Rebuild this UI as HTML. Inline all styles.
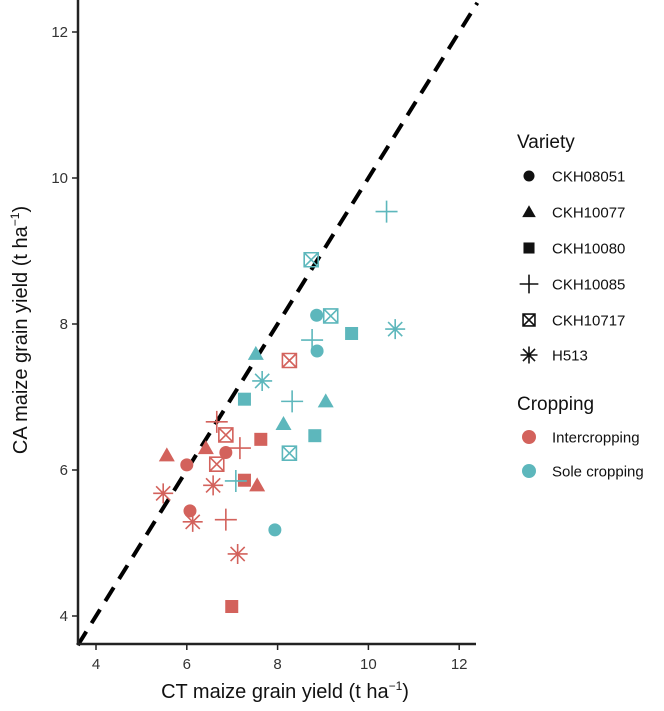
<!DOCTYPE html>
<html><head><meta charset="utf-8"><style>
body{margin:0;background:#fff}
svg{display:block;font-family:"Liberation Sans",sans-serif}
</style></head><body>
<svg id="chart" width="664" height="711">
<g id="plot"></g>
<line x1="78" y1="0" x2="78" y2="645" stroke="#222" stroke-width="2.5"/>
<line x1="77" y1="644" x2="476" y2="644" stroke="#222" stroke-width="2.5"/>
<g id="ticks"></g>
<text x="285" y="698" font-size="20" text-anchor="middle" fill="#111">CT maize grain yield (t ha<tspan dy="-8" font-size="12">−1</tspan><tspan dy="8">)</tspan></text>
<text transform="translate(27,330) rotate(-90)" font-size="20" text-anchor="middle" fill="#111">CA maize grain yield (t ha<tspan dy="-8" font-size="12">−1</tspan><tspan dy="8">)</tspan></text>
<g id="legend">
<text x="517" y="148" font-size="19" fill="#111">Variety</text>
<text x="517" y="410" font-size="19" fill="#111">Cropping</text>
</g>
</svg>
<script>
const varieties=["CKH08051","CKH10077","CKH10080","CKH10085","CKH10717","H513"];
const croppings=["Intercropping","Sole cropping"];
const ctYield=[6.0,6.86,6.07,5.56,6.42,7.55,7.63,7.27,6.99,6.66,7.17,6.86,6.86,6.66,8.26,5.48,6.58,6.13,7.12,
 8.86,8.87,7.94,7.52,8.13,9.06,7.27,9.63,8.82,8.76,8.32,7.08,10.40,9.17,8.26,8.74,7.66,10.59];
const caYield=[6.07,6.24,5.44,6.2,6.30,5.79,6.42,5.86,4.13,6.66,6.30,5.32,6.48,6.08,7.50,5.68,5.79,5.29,4.85,
 8.12,7.63,5.18,7.59,6.63,6.94,6.97,7.87,6.47,7.78,6.94,5.85,9.54,8.11,6.23,8.88,7.22,7.93];
const varietyIdx=[0,0,0,1,1,1,2,2,2,3,3,3,4,4,4,5,5,5,5,
 0,0,0,1,1,1,2,2,2,3,3,3,3,4,4,4,5,5];
const croppingIdx=[0,0,0,0,0,0,0,0,0,0,0,0,0,0,0,0,0,0,0,
 1,1,1,1,1,1,1,1,1,1,1,1,1,1,1,1,1,1];
const xTicks=[4,6,8,10,12];
const yTicks=[4,6,8,10,12];
const X=v=>96+(v-4)*45.4;
const Y=v=>616-(v-4)*73;
const colors=["#d3625c","#5db7bc"];
const NS="http://www.w3.org/2000/svg";
function mk(tag,attrs,parent){const e=document.createElementNS(NS,tag);for(const k in attrs)e.setAttribute(k,attrs[k]);parent.appendChild(e);return e;}
function shape(g,type,cx,cy,col,s){
 s=s||1;
 if(type===0)mk("circle",{cx:cx,cy:cy,r:6.5*s,fill:col},g);
 else if(type===1)mk("polygon",{points:`${cx},${cy-8*s} ${cx+8*s},${cy+6*s} ${cx-8*s},${cy+6*s}`,fill:col},g);
 else if(type===2)mk("rect",{x:cx-6.5*s,y:cy-6.5*s,width:13*s,height:13*s,fill:col},g);
 else if(type===3){mk("path",{d:`M${cx-11*s},${cy}H${cx+11*s}M${cx},${cy-11*s}V${cy+11*s}`,stroke:col,"stroke-width":1.6,fill:"none"},g);}
 else if(type===4){const r=7*s;mk("path",{d:`M${cx-r},${cy-r}h${2*r}v${2*r}h${-2*r}zM${cx-r},${cy-r}L${cx+r},${cy+r}M${cx+r},${cy-r}L${cx-r},${cy+r}`,stroke:col,"stroke-width":1.6,fill:"none"},g);}
 else {const r=10*s;let d="";for(let a=0;a<4;a++){const t=a*Math.PI/4;d+=`M${cx-r*Math.cos(t)},${cy-r*Math.sin(t)}L${cx+r*Math.cos(t)},${cy+r*Math.sin(t)}`;}
  mk("path",{d:d,stroke:col,"stroke-width":1.6,fill:"none"},g);}
}
const plot=document.getElementById("plot");
const dl=mk("line",{x1:X(3.6),y1:Y(3.6),x2:X(12.4),y2:Y(12.4),stroke:"#000","stroke-width":4,"stroke-dasharray":"16 10"},plot);


for(let i=0;i<ctYield.length;i++){
 const g=mk("g",{},plot);
 
 
 shape(g,varietyIdx[i],X(ctYield[i]),Y(caYield[i]),colors[croppingIdx[i]]);
}
const tk=document.getElementById("ticks");
xTicks.forEach(v=>{
 mk("line",{x1:X(v),y1:644,x2:X(v),y2:650,stroke:"#222","stroke-width":1.5},tk);
 const t=mk("text",{x:X(v),y:669,"font-size":15,"text-anchor":"middle",fill:"#333"},tk);t.textContent=v;
 
 
});
yTicks.forEach(v=>{
 mk("line",{x1:72,y1:Y(v),x2:78,y2:Y(v),stroke:"#222","stroke-width":1.5},tk);
 const t=mk("text",{x:68,y:Y(v)+5,"font-size":15,"text-anchor":"end",fill:"#333"},tk);t.textContent=v;
 
 
});
const lg=document.getElementById("legend");
const vy=[176,212,248,284,320,355];
varieties.forEach((v,i)=>{
 const g=mk("g",{},lg);
 
 
 shape(g,i,529,vy[i],"#111",0.85);
 const t=mk("text",{x:552,y:vy[i]+5.5,"font-size":15,fill:"#111"},g);t.textContent=v;
});
const cy=[437,471];
croppings.forEach((c,i)=>{
 const g=mk("g",{},lg);
 
 
 mk("circle",{cx:529,cy:cy[i],r:7,fill:colors[i]},g);
 const t=mk("text",{x:552,y:cy[i]+5.5,"font-size":15,fill:"#111"},g);t.textContent=c;
});
</script>
</body></html>
